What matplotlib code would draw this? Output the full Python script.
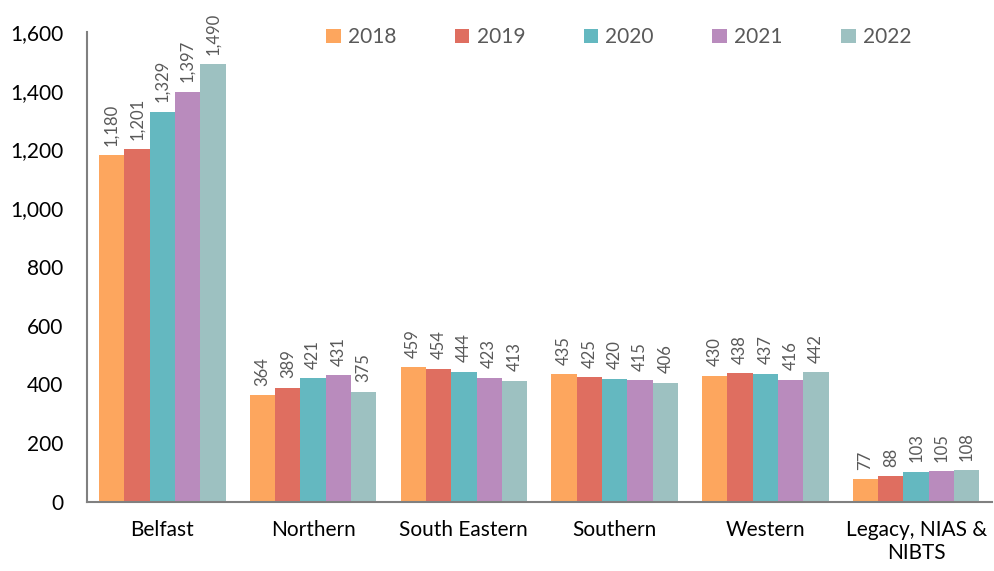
import numpy as np
import matplotlib.pyplot as plt

plt.rcParams['font.family'] = ['Lato', 'DejaVu Sans']

# Data
categories = ['Belfast', 'Northern', 'South Eastern', 'Southern', 'Western',
              'Legacy, NIAS &\nNIBTS']
years = ['2018', '2019', '2020', '2021', '2022']
v2018 = [1180, 364, 459, 435, 430, 77]
v2019 = [1201, 389, 454, 425, 438, 88]
v2020 = [1329, 421, 444, 420, 437, 103]
v2021 = [1397, 431, 423, 415, 416, 105]
v2022 = [1490, 375, 413, 406, 442, 108]
series = [v2018, v2019, v2020, v2021, v2022]
colors = ['#FDA65E', '#DF6E60', '#64B8C0', '#B98BBD', '#9DC1C1']

fig = plt.figure(figsize=(9.94, 5.71), dpi=100)
ax = fig.add_axes([0.0875, 0.121, 0.91, 0.823])

x = np.arange(len(categories))
bw = 0.168
for i, (vals, col) in enumerate(zip(series, colors)):
    pos = x + (i - 2) * bw
    ax.bar(pos, vals, width=bw, color=col, label=years[i])
    for p, v in zip(pos, vals):
        ax.text(p, v + 32, f'{v:,}', rotation=90, ha='center', va='bottom',
                fontsize=12, color='#595959')

ax.set_xlim(-0.5, len(categories) - 0.5)
ax.set_ylim(0, 1600)
ax.set_yticks(np.arange(0, 1601, 200))
ax.set_yticklabels([f'{t:,}' for t in range(0, 1601, 200)], fontsize=15)
ax.set_xticks(x)
ax.set_xticklabels(categories, fontsize=15)
ax.tick_params(axis='y', length=0, pad=17)
ax.tick_params(axis='x', length=0, pad=13)
for s in ['top', 'right']:
    ax.spines[s].set_visible(False)
for s in ['left', 'bottom']:
    ax.spines[s].set_color('#808080')
    ax.spines[s].set_linewidth(1.5)

leg = ax.legend(loc='upper center', bbox_to_anchor=(0.588, 1.05), ncol=5, frameon=False,
                fontsize=15, handlelength=0.7, handleheight=0.7, handletextpad=0.35,
                columnspacing=2.8, labelcolor='#595959')

fig.savefig('out.png', dpi=100)
